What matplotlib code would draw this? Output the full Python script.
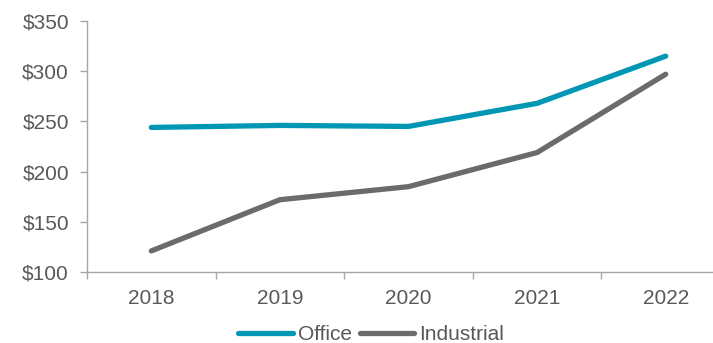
import matplotlib
matplotlib.use("Agg")
import matplotlib.pyplot as plt
from matplotlib.ticker import FixedLocator, FuncFormatter

years = ["2018", "2019", "2020", "2021", "2022"]
office = [244, 246, 245, 268, 315]
industrial = [121, 172, 185, 219, 297]

plt.rcParams["font.family"] = ["Liberation Sans", "DejaVu Sans"]
text_gray = "#595959"
axis_gray = "#A6A6A6"

fig = plt.figure(figsize=(7.13, 3.43), dpi=100)
ax = fig.add_axes([87 / 713, 71 / 343, 643 / 713, 251 / 343])

x = list(range(len(years)))
ax.plot(x, office, color="#0097B4", lw=3.8, solid_capstyle="round", label="Office")
ax.plot(x, industrial, color="#6B6B6B", lw=3.8, solid_capstyle="round", label="Industrial")

ax.set_xlim(-0.5, len(years) - 0.5)
ax.set_ylim(100, 350)
ax.set_yticks(range(100, 351, 50))
ax.yaxis.set_major_formatter(FuncFormatter(lambda v, p: f"${v:.0f}"))

ax.set_xticks(x)
ax.set_xticklabels(years)
ax.xaxis.set_minor_locator(FixedLocator([i - 0.5 for i in range(len(years) + 1)]))
ax.tick_params(axis="x", which="major", length=0, pad=12, labelsize=15, labelcolor=text_gray)
ax.tick_params(axis="x", which="minor", length=5, color=axis_gray, width=1)
ax.tick_params(axis="y", length=5, color=axis_gray, width=1, pad=8, labelsize=15, labelcolor=text_gray)

for side in ["top", "right"]:
    ax.spines[side].set_visible(False)
for side in ["left", "bottom"]:
    ax.spines[side].set_color(axis_gray)
    ax.spines[side].set_linewidth(1)

leg = fig.legend(loc="center", bbox_to_anchor=(0.521, 0.025), ncol=2, frameon=False,
                 fontsize=15, handlelength=2.6, handletextpad=0.25, columnspacing=0.4,
                 borderpad=0)
for t in leg.get_texts():
    t.set_color(text_gray)

fig.savefig("out.png", dpi=100)
